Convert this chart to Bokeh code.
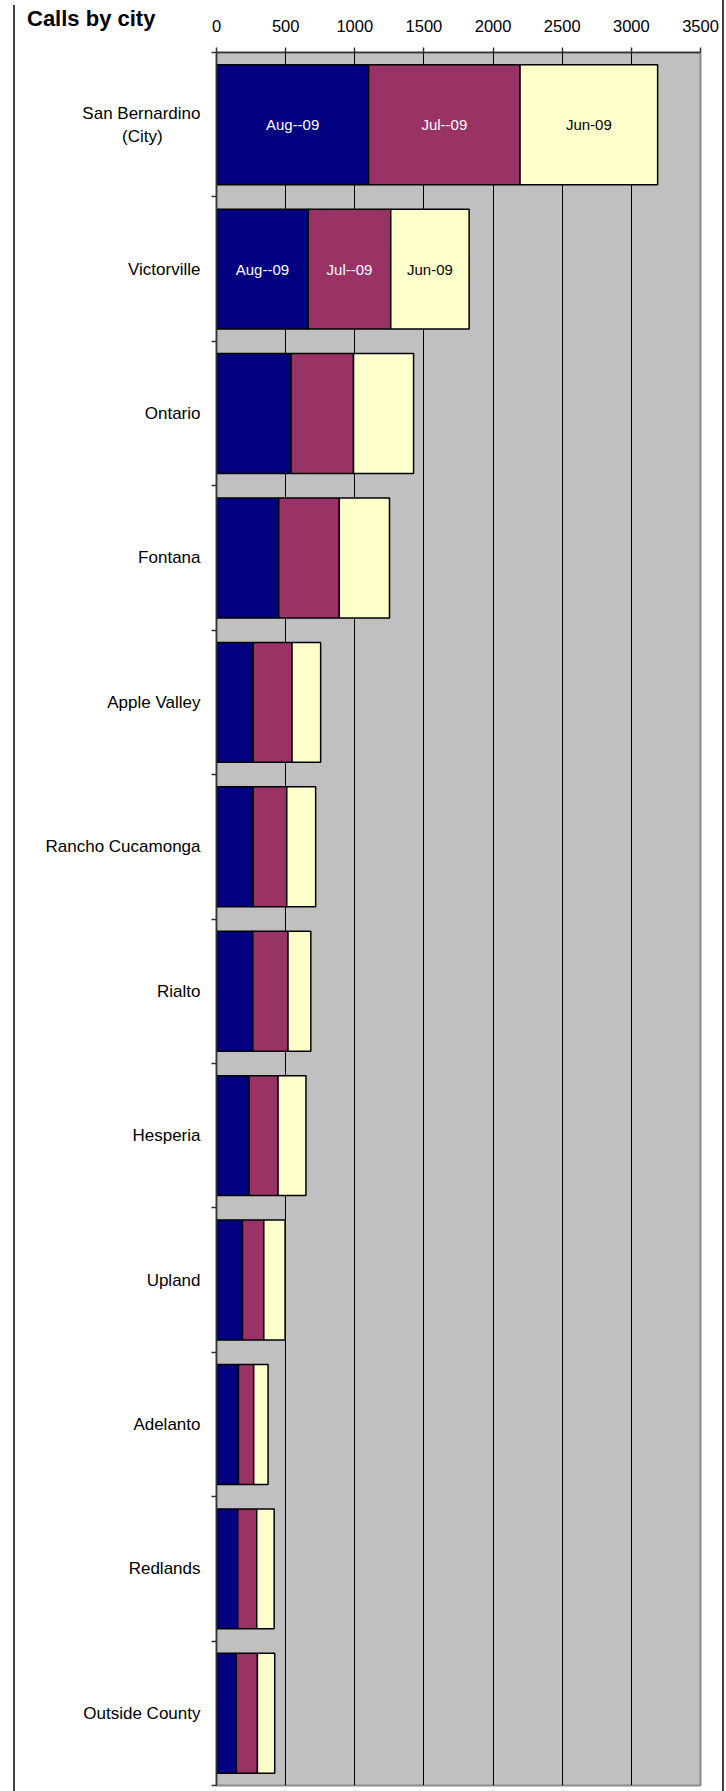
from bokeh.plotting import figure
from bokeh.models import FixedTicker, Range1d, ColumnDataSource, Div
from bokeh.layouts import column
from bokeh.core.properties import value
from bokeh.embed import file_html
from bokeh.resources import INLINE

NBSP = "\u00a0"
cities = ["San Bernardino\n(City)" + NBSP * 8, "Victorville", "Ontario", "Fontana", "Apple Valley",
          "Rancho Cucamonga", "Rialto", "Hesperia", "Upland", "Adelanto", "Redlands",
          "Outside County"]
aug = [1100, 664, 539, 450, 265, 265, 262, 236, 188, 159, 154, 144]
jul = [1095, 596, 452, 438, 281, 243, 255, 209, 154, 110, 137, 152]
jun = [995, 567, 434, 363, 207, 209, 165, 202, 154, 104, 126, 125]
month_labels = ["Aug--09", "Jul--09", "Jun-09"]
month_colors = ["#000080", "#993366", "#FFFFCC"]
label_colors = ["white", "white", "black"]
x_ticks = [0, 500, 1000, 1500, 2000, 2500, 3000, 3500]
title_text = "Calls by city"
FONT = "Liberation Sans"

n = len(cities)
ys = [i + 0.5 for i in range(n)]
src = ColumnDataSource(dict(y=ys, aug=aug, jul=jul, jun=jun))

W, H = 722, 1791
p = figure(width=W, height=H, output_backend="svg", toolbar_location=None,
           x_range=Range1d(0, 3500), y_range=Range1d(n, 0),
           x_axis_location="above", min_border_left=216, min_border_right=22,
           min_border_top=52, min_border_bottom=6)
p.styles = {"box-shadow": "2px 0px 0px 0px #404040"}
p.background_fill_color = "#C0C0C0"
p.border_fill_color = "white"
p.outline_line_color = "#8a8a8a"
p.outline_line_width = 2

p.hbar_stack(["aug", "jul", "jun"], y="y", height=0.83, color=month_colors,
             line_color="black", line_width=1.5, source=src)

# segment labels on the first two rows
tx, ty, tt, tc = [], [], [], []
for i in range(2):
    vals = [aug[i], jul[i], jun[i]]
    start = 0
    for k, v in enumerate(vals):
        tx.append(start + v / 2)
        ty.append(ys[i])
        tt.append(month_labels[k])
        tc.append(label_colors[k])
        start += v
p.text(x=tx, y=ty, text=tt, text_color=tc, text_align="center", text_baseline="middle",
       text_font=value(FONT), text_font_size="15px")

# x axis (top)
xa = p.xaxis[0]
xa.ticker = FixedTicker(ticks=x_ticks)
xa.major_tick_out = 5
xa.major_tick_in = 0
xa.minor_tick_out = 0
xa.minor_tick_in = 0
xa.axis_line_color = "#333333"
xa.axis_line_width = 1.5
xa.major_tick_line_color = "#333333"
xa.major_tick_line_width = 1.5
xa.major_label_text_font = FONT
xa.major_label_text_font_size = "16.5px"
xa.major_label_text_color = "black"
xa.major_label_standoff = 16

# y axis (left)
ya = p.yaxis[0]
ya.ticker = FixedTicker(ticks=ys, minor_ticks=list(range(n + 1)))
ya.major_label_overrides = {y: c for y, c in zip(ys, cities)}
ya.major_tick_out = 0
ya.major_tick_in = 0
ya.minor_tick_out = 5
ya.minor_tick_in = 0
ya.minor_tick_line_color = "#333333"
ya.minor_tick_line_width = 1.5
ya.axis_line_color = "#333333"
ya.axis_line_width = 1.5
ya.major_label_text_font = FONT
ya.major_label_text_font_size = "17px"
ya.major_label_text_color = "black"
ya.major_label_standoff = 11

p.xgrid.ticker = FixedTicker(ticks=x_ticks[1:-1])
p.xgrid.grid_line_color = "black"
p.xgrid.grid_line_width = 1
p.ygrid.grid_line_color = None

title = Div(text=title_text, width=700, height=1791,
            styles={"position": "absolute", "left": "8px", "top": "0px",
                    "border-left": "2px solid #404040",
                    "padding-left": "12px", "padding-top": "3px", "box-sizing": "content-box",
                    "font-family": FONT, "font-size": "22px", "font-weight": "bold",
                    "line-height": "1", "color": "black", "z-index": "10",
                    "pointer-events": "none"})

layout = column(p, title)
open("out.html", "w").write(file_html(layout, INLINE))
